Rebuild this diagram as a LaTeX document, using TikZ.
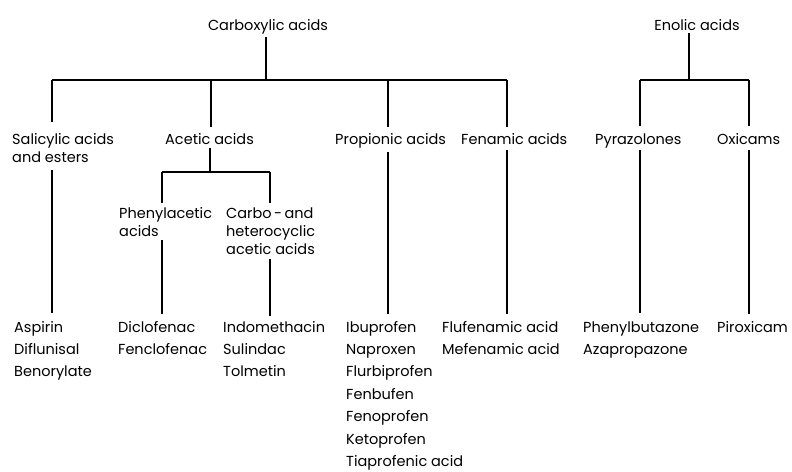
\documentclass[tikz,border=0pt]{standalone}
\usepackage{fontspec}
\setmainfont{Poppins}
\begin{document}
\begin{tikzpicture}[x=1pt,y=-1pt,
  lbl/.style={anchor=base west,inner sep=0pt,font=\fontsize{14.5}{18}\selectfont,align=left},
  top/.style={anchor=base,inner sep=0pt,font=\fontsize{14.5}{18}\selectfont},
  leaf/.style={anchor=base west,inner sep=0pt,font=\fontsize{14.5}{22.4}\selectfont,align=left},
  conn/.style={line width=1.7pt}]
\useasboundingbox (0,0) rectangle (792,471);
% headings (multi-line nodes are placed at the baseline of their last line)
\node[top] (carb) at (268,30) {Carboxylic acids};
\node[top] (enol) at (697,30) {Enolic acids};
\node[lbl] (sal) at (12,162) {Salicylic acids\\and esters};
\node[lbl] (acet) at (165,144) {Acetic acids};
\node[lbl] (prop) at (335,144) {Propionic acids};
\node[lbl] (fen) at (461,144) {Fenamic acids};
\node[lbl] (pyr) at (595,144) {Pyrazolones};
\node[lbl] (oxi) at (717,144) {Oxicams};
\node[lbl] (phen) at (119,236) {Phenylacetic\\acids};
\node[lbl] (carbo) at (226,254) {Carbo\,-\,and\\heterocyclic\\acetic acids};
% leaves (first baseline at y=332, 22.4pt apart)
\node[leaf] (lsal) at (14,376.8) {Aspirin\\Diflunisal\\Benorylate};
\node[leaf] (lphen) at (118,354.4) {Diclofenac\\Fenclofenac};
\node[leaf] (lcarbo) at (223,376.8) {Indomethacin\\Sulindac\\Tolmetin};
\node[leaf] (lprop) at (346,466.4) {Ibuprofen\\Naproxen\\Flurbiprofen\\Fenbufen\\Fenoprofen\\Ketoprofen\\Tiaprofenic acid};
\node[leaf] (lfen) at (442,354.4) {Flufenamic acid\\Mefenamic acid};
\node[leaf] (lpyr) at (583,354.4) {Phenylbutazone\\Azapropazone};
\node[leaf] (loxi) at (717,332) {Piroxicam};
% junction coordinates
\coordinate (c0) at (266,37);
\coordinate (c1) at (266,80);
\coordinate (bL) at (52,80);
\coordinate (bR) at (507,80);
\coordinate (bA) at (211,80);
\coordinate (bP) at (388,80);
\coordinate (e0) at (689,33);
\coordinate (e1) at (689,80);
\coordinate (eL) at (640,80);
\coordinate (eR) at (749,80);
\coordinate (a0) at (210,148);
\coordinate (a1) at (210,172);
\coordinate (aL) at (162,172);
\coordinate (aR) at (270,172);
% carboxylic tree
\draw[conn] (c0) -- (c1);
\draw[conn] (bL) -- (bR);
\draw[conn] (bL) -- (52,122);
\draw[conn] (bA) -- (211,127);
\draw[conn] (bP) -- (388,127);
\draw[conn] (bR) -- (507,127);
% enolic tree
\draw[conn] (e0) -- (e1);
\draw[conn] (eL) -- (eR);
\draw[conn] (eL) -- (640,126);
\draw[conn] (eR) -- (749,126);
% acetic subtree
\draw[conn] (a0) -- (a1);
\draw[conn] (aL) -- (aR);
\draw[conn] (aL) -- (162,203);
\draw[conn] (aR) -- (270,203);
% leaf connectors
\draw[conn] (52,170) -- (52,313);
\draw[conn] (162,240) -- (162,314);
\draw[conn] (270,259) -- (270,316);
\draw[conn] (388,152) -- (388,314);
\draw[conn] (507,150) -- (507,314);
\draw[conn] (640,150) -- (640,313);
\draw[conn] (749,150) -- (749,314);
\end{tikzpicture}
\end{document}
